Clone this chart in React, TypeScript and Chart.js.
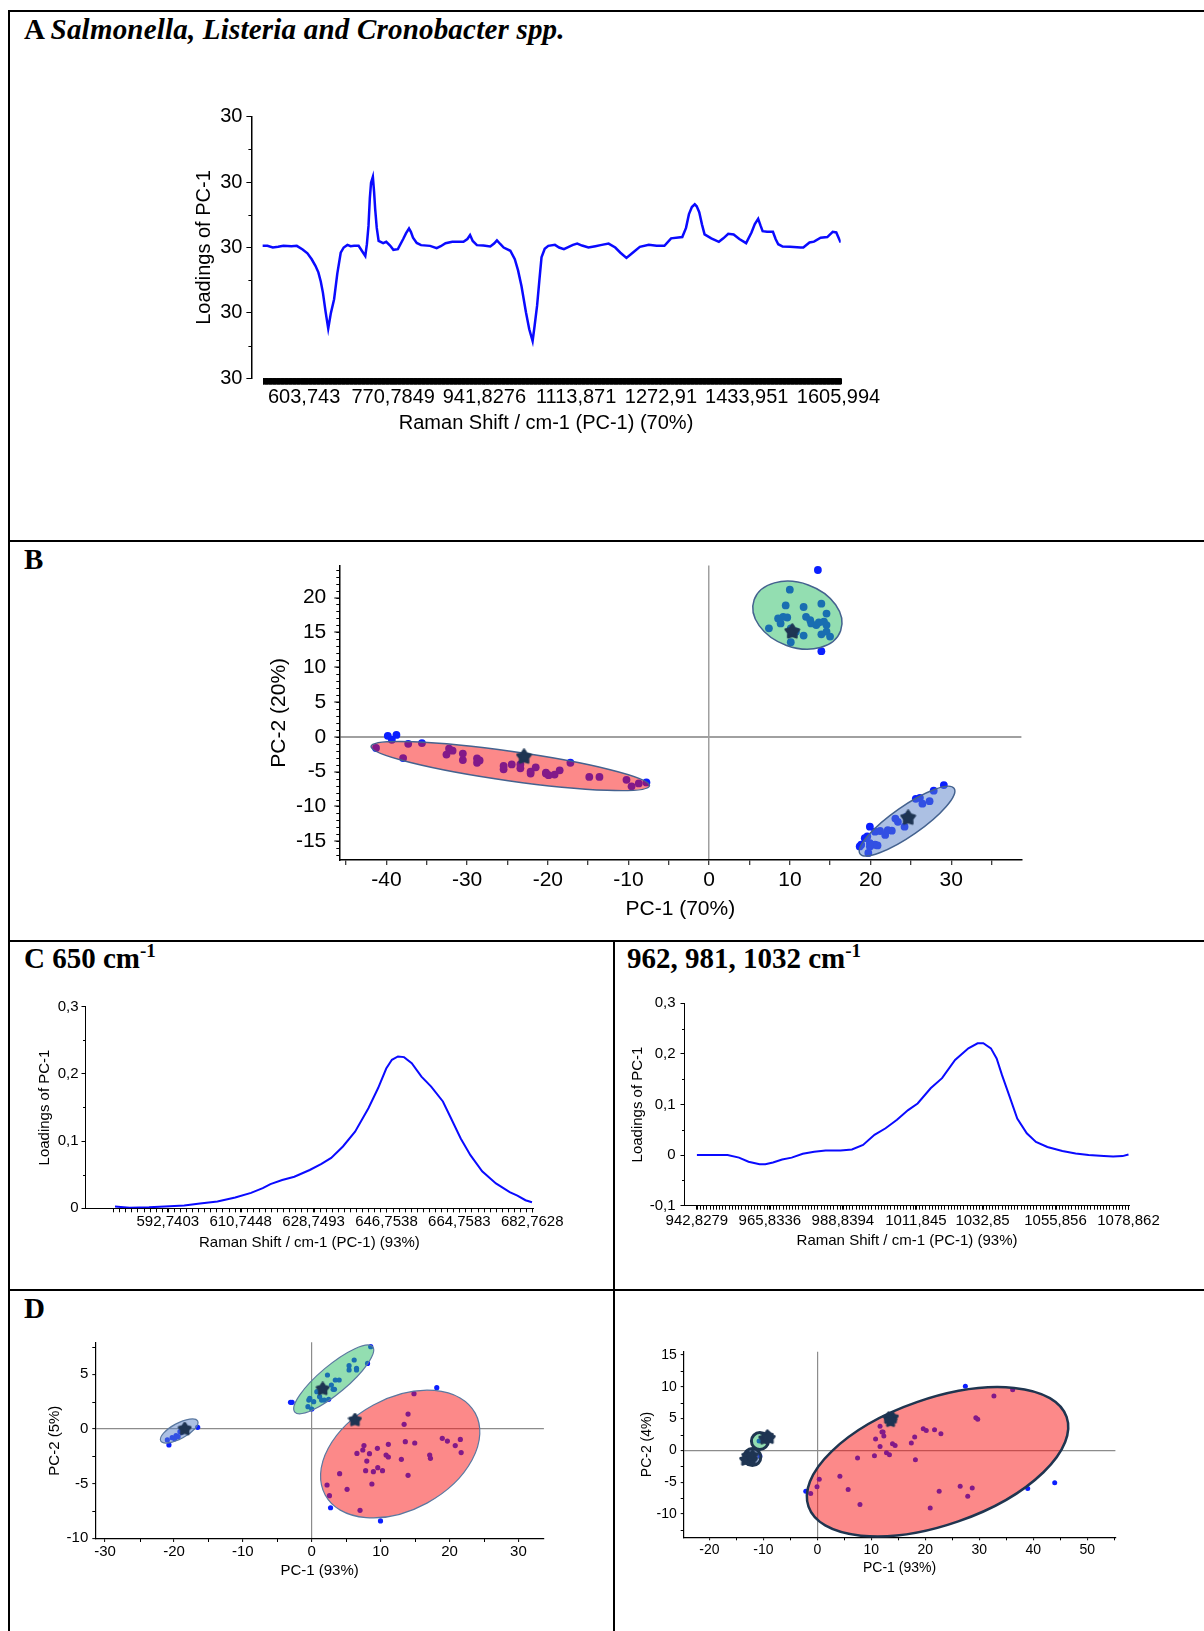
import React, { useEffect, useRef } from 'react';
import { Chart, registerables } from 'chart.js';

Chart.register(...registerables);

// ================= DATA =================
// Panel A – PC-1 loadings over the full Raman range
const ramanA = [526, 535, 545, 555, 565, 580, 590, 601, 610, 618, 625, 630.5, 635, 639, 644, 649, 654, 660, 666, 672.4, 678, 685, 691, 697.5, 706, 712, 718.5, 721.5, 724.5, 727, 729.3, 732.7, 735, 737, 740, 743.5, 752, 757.8, 765, 771.2, 779.6, 789.6, 795, 800.5, 804, 808, 815, 823, 840, 852.4, 860, 869, 881.7, 902.6, 910, 915, 920, 927.8, 940, 952.9, 960, 965.4, 972, 978, 990.5, 998.9, 1005, 1011.4, 1019.8, 1026, 1032.3, 1036, 1040.7, 1045, 1049, 1055, 1061.7, 1074.2, 1082, 1091, 1100, 1108, 1116, 1125, 1137, 1150, 1162, 1174.8, 1187.3, 1197, 1208.3, 1220, 1233.4, 1250.2, 1265, 1279.5, 1292, 1313, 1320, 1325.5, 1331, 1336.4, 1340, 1344.8, 1350, 1354.8, 1367.4, 1381.6, 1390, 1399.2, 1409.3, 1420, 1432.7, 1442.8, 1449, 1455.3, 1460, 1463.7, 1472, 1483, 1488, 1493, 1501.3, 1515, 1534.8, 1540, 1551.6, 1560, 1572.5, 1585, 1595.1, 1601.8, 1610];
const loadingsA = [0.025, 0.025, 0.0, 0.01, 0.025, 0.02, 0.025, -0.03, -0.09, -0.18, -0.28, -0.38, -0.52, -0.69, -0.98, -1.24, -1.0, -0.79, -0.4, -0.08, 0.0, 0.04, 0.02, 0.025, 0.025, -0.05, -0.13, 0.05, 0.33, 0.75, 0.99, 1.08, 0.85, 0.59, 0.3, 0.1, 0.066, 0.087, 0.03, -0.036, -0.025, 0.13, 0.22, 0.29, 0.24, 0.15, 0.07, 0.036, 0.025, -0.01, 0.02, 0.066, 0.087, 0.087, 0.13, 0.19, 0.1, 0.036, 0.03, 0.015, 0.06, 0.11, 0.05, 0.0, -0.05, -0.18, -0.35, -0.59, -0.99, -1.25, -1.43, -1.2, -0.89, -0.5, -0.15, -0.02, 0.025, 0.04, 0.0, -0.025, 0.01, 0.04, 0.06, 0.03, 0.0, 0.02, 0.04, 0.06, 0.0, -0.08, -0.16, -0.08, 0.01, 0.04, 0.025, 0.025, 0.14, 0.16, 0.3, 0.51, 0.62, 0.66, 0.63, 0.54, 0.35, 0.2, 0.14, 0.087, 0.14, 0.21, 0.2, 0.13, 0.066, 0.23, 0.36, 0.44, 0.33, 0.25, 0.24, 0.24, 0.13, 0.05, 0.015, 0.01, 0.0, 0.0, 0.076, 0.09, 0.15, 0.16, 0.24, 0.23, 0.076];
const ticksA_x = [603.743, 770.7849, 941.8276, 1113.871, 1272.91, 1433.951, 1605.994];
const tickLabelsA_x = ['603,743', '770,7849', '941,8276', '1113,871', '1272,91', '1433,951', '1605,994'];
const ticksA_y = [-2, -1, 0, 1, 2];
const tickLabelsA_y = ['30', '30', '30', '30', '30'];

// Panel B – score plot
const pcB_x = [-41.29, -39.33, -38.76, -39.83, -37.93, -37.3, -35.6, -32.56, -32.24, -31.8, -30.53, -30.53, -28.77, -28.45, -28.77, -25.48, -25.48, -24.47, -23.4, -23.4, -22.13, -22.13, -21.5, -20.23, -19.9, -20.23, -19.16, -18.53, -17.2, -14.86, -13.6, -10.25, -9.62, -8.73, -7.78,
  13.47, 9.99, 9.48, 11.7, 13.9, 14.54, 8.54, 9.17, 9.67, 8.85, 7.4, 12.0, 12.52, 13.27, 13.59, 14.22, 14.54, 12.64, 10.11, 10.74, 11.7, 13.9, 14.54, 14.98, 10.11, 13.9,
  29.08, 27.82, 27.31, 26.42, 26.11, 25.6, 24.46, 24.21, 23.39, 23.07, 22.63, 22.13, 21.81, 21.18, 20.55, 20.55, 19.91, 19.59, 19.28, 18.84, 19.91, 19.91, 19.72, 18.65, 20.86];
const pcB_y = [-1.6, -0.42, 0.28, 0.14, -3.05, -1.0, -0.89, -2.54, -1.7, -1.98, -2.4, -3.34, -3.1, -3.39, -3.72, -4.19, -4.67, -3.96, -3.96, -4.52, -4.99, -5.28, -4.38, -5.14, -5.51, -5.28, -5.42, -4.81, -3.72, -5.75, -5.75, -6.17, -7.11, -6.69, -6.54,
  23.95, 21.13, 18.87, 18.64, 19.11, 17.7, 16.99, 17.23, 17.13, 16.28, 15.57, 17.23, 16.75, 16.04, 16.43, 16.52, 16.04, 16.28, 15.57, 15.1, 14.53, 14.72, 15.1, 14.39, 13.59, 12.29,
  -6.92, -7.73, -9.23, -9.6, -8.76, -8.9, -11.49, -12.9, -12.2, -11.73, -13.47, -13.38, -14.08, -13.52, -15.49, -13.61, -12.9, -14.31, -14.55, -15.49, -15.25, -15.73, -16.67, -15.73, -15.59];
const centroidB_x = [-22.95, 10.3, 24.66];
const centroidB_y = [-2.87, 15.1, -11.63];
const ellCentersB = [[-24.65, -4.2], [10.93, 17.46], [24.52, -12.1]];
const ellEndsB = [[-7.4, -7.02], [16.29, 15.24], [30.35, -7.4]];
const ellRatiosB = [0.105, 0.7, 0.256];
const ticksB_x = [-45, -40, -35, -30, -25, -20, -15, -10, -5, 0, 5, 10, 15, 20, 25, 30, 35];
const tickLabelsB_x = ['', '-40', '', '-30', '', '-20', '', '-10', '', '0', '', '10', '', '20', '', '30', ''];
const ticksB_y = [-15, -10, -5, 0, 5, 10, 15, 20];
const tickLabelsB_y = ['-15', '-10', '-5', '0', '5', '10', '15', '20'];

// Panel C – 650 cm-1 region
const ramanC1 = [579.7, 583.3, 588.1, 592, 596.8, 600.7, 605, 609.4, 613.3, 616.2, 618.1, 621, 624, 627.8, 630.7, 633.1, 636, 639, 642.3, 644.7, 646.7, 648.1, 649.6, 651.1, 653, 655.4, 657.8, 660.7, 662.7, 665.1, 667.5, 670.4, 673.8, 677.2, 679.1, 681.1, 682.7];
const loadingsC1 = [0.0025, 0.001, 0.0015, 0.0025, 0.004, 0.007, 0.01, 0.016, 0.023, 0.03, 0.036, 0.042, 0.047, 0.057, 0.066, 0.075, 0.092, 0.114, 0.149, 0.179, 0.208, 0.221, 0.226, 0.225, 0.216, 0.196, 0.181, 0.159, 0.134, 0.104, 0.079, 0.055, 0.037, 0.024, 0.019, 0.012, 0.009];
const ticksC1_x = [592.7403, 610.7448, 628.7493, 646.7538, 664.7583, 682.7628];
const tickLabelsC1_x = ['592,7403', '610,7448', '628,7493', '646,7538', '664,7583', '682,7628'];
const ticksC1_y = [0, 0.1, 0.2, 0.3];
const tickLabelsC1_y = ['0', '0,1', '0,2', '0,3'];

// Panel C (right) – 962, 981, 1032 cm-1 region
const ramanC2 = [942.83, 952.5, 956.1, 959.1, 962.6, 964.4, 966.8, 969.7, 972.7, 976.2, 979.8, 983.4, 988.1, 991.7, 995.2, 998.8, 1002.3, 1005.9, 1009.4, 1012.4, 1016.5, 1020.1, 1024.2, 1028.4, 1031.3, 1033.1, 1035.5, 1037.3, 1039.0, 1041.2, 1043.8, 1046.8, 1049.7, 1053.3, 1058, 1062.2, 1066.3, 1071.1, 1074, 1077, 1078.86];
const loadingsC2 = [0, 0, -0.005, -0.013, -0.018, -0.018, -0.0145, -0.0086, -0.005, 0.0026, 0.0066, 0.009, 0.009, 0.011, 0.02, 0.04, 0.053, 0.07, 0.089, 0.102, 0.132, 0.152, 0.188, 0.211, 0.221, 0.221, 0.211, 0.191, 0.158, 0.119, 0.072, 0.043, 0.026, 0.016, 0.008, 0.003, 0, -0.002, -0.003, -0.002, 0.0013];
const ticksC2_x = [942.8279, 965.8336, 988.8394, 1011.845, 1032.85, 1055.856, 1078.862];
const tickLabelsC2_x = ['942,8279', '965,8336', '988,8394', '1011,845', '1032,85', '1055,856', '1078,862'];
const ticksC2_y = [-0.1, 0, 0.1, 0.2, 0.3];
const tickLabelsC2_y = ['-0,1', '0', '0,1', '0,2', '0,3'];

// Panel D (left) – score plot, 650 cm-1
const pcD1_x = [-20.73, -20.96, -20.27, -19.7, -19.13, -18.56, -16.56, -19.9, -19.4, -18.9,
  8.56, 6.16, 8.1, 5.42, 5.42, 6.5, 6.5, 2.28, 3.42, 3.98, 3.1, 3.3, 0.74, -0.29, 0.28, -0.43, -0.55, 0.0, 1.43, 1.83, 2.45, -2.85, -3.08, 1.14, 2.85,
  14.84, 18.15, 13.98, 13.41, 13.58, 14.95, 18.95, 19.69, 21.57, 20.83, 21.69, 7.58, 7.41, 6.56, 8.38, 9.53, 10.79, 11.12, 11.12, 7.99, 13.01, 17.12, 17.23, 7.82, 8.95, 9.58, 10.27, 4.05, 13.98, 8.73, 5.13, 2.22, 2.57, 2.73, 7.01, 9.98];
const pcD1_y = [-1.46, -1.0, -0.79, -0.61, -0.24, 0.12, 0.15, -0.9, -0.7, -0.3,
  7.53, 6.31, 6.0, 5.79, 5.4, 5.55, 5.4, 4.94, 4.48, 4.48, 3.63, 3.63, 3.41, 2.8, 2.5, 2.65, 2.04, 1.83, 2.65, 2.65, 2.71, 2.44, 2.44, 2.96, 4.02,
  3.23, 3.78, 1.37, 0.43, -1.16, -1.28, -0.85, -1.1, -0.95, -1.52, -2.16, -1.52, -1.92, -2.23, -2.26, -1.77, -2.38, -2.56, -1.4, -2.93, -2.77, -2.38, -2.68, -3.81, -3.9, -3.54, -3.81, -4.09, -4.24, -5.03, -5.52, -5.12, -6.1, -7.2, -7.44, -8.41];
const centroidD1_x = [-18.44, 1.59, 6.27];
const centroidD1_y = [0.0, 3.66, 0.82];
const ellCentersD1 = [[-19.24, -0.18], [3.19, 4.54], [12.84, -2.29]];
const ellEndsD1 = [[-16.56, 0.73], [8.84, 7.53], [23.73, 1.45]];
const ellRatiosD1 = [0.37, 0.275, 0.654];
const ticksD1_x = [-30, -20, -10, 0, 10, 20, 30];
const tickLabelsD1_x = ['-30', '-20', '-10', '0', '10', '20', '30'];
const ticksD1_y = [-10, -5, 0, 5];
const tickLabelsD1_y = ['-10', '-5', '0', '5'];

// Panel D (right) – score plot, 962/981/1032 cm-1
const pcD2_x = [27.41, 32.7, 36.17, 29.35, 29.7, 11.61, 11.96, 12.17, 12.31, 10.78, 11.61, 19.61, 20.17, 21.7, 22.88, 18.02, 17.4, 13.91, 14.4, 12.8, 13.35, 7.44, 10.57, 18.16, 4.17, 0.35, -0.07, 5.7, -2.15, -1.24, 7.89, 20.9, 22.56, 26.45, 28.68, 27.85, 38.96, 43.96, -10.65, -10.8];
const pcD2_y = [10.09, 8.57, 9.52, 5.15, 4.89, 3.79, 2.89, 2.89, 2.26, 1.79, 0.63, 3.42, 3.15, 3.26, 2.63, 2.1, 1.16, 1.05, 0.79, -0.37, -0.68, -1.21, -0.84, -1.47, -4.05, -4.52, -5.73, -6.15, -6.41, -6.78, -8.52, -9.04, -6.41, -5.63, -5.89, -7.2, -5.99, -5.1, -0.89, 1.47];
const centroidD2_x = [13.2, 13.9, 13.55, -9.26, -9.75, -8.91, -12.9, -12.2, -13.3, -12.0];
const centroidD2_y = [5.1, 5.15, 4.6, 2.26, 1.84, 1.94, -0.9, -1.5, -1.5, -0.8];
const ellCentersD2 = [[22.26, -1.79], [-12.04, -1.05], [-10.65, 1.47]];
const ellEndsD2 = [[46.16, 5.26], [-10.47, -1.05], [-9.08, 1.47]];
const ellRatiosD2 = [0.462, 1, 1];
const ticksD2_x = [-20, -10, 0, 10, 20, 30, 40, 50];
const tickLabelsD2_x = ['-20', '-10', '0', '10', '20', '30', '40', '50'];
const ticksD2_y = [-10, -5, 0, 5, 10, 15];
const tickLabelsD2_y = ['-10', '-5', '0', '5', '10', '15'];

// ================= STYLE =================
const SANS = "'Liberation Sans', Arial, Helvetica, sans-serif";
const SERIF = "'Liberation Serif', 'Times New Roman', serif";
const LINE_BLUE = '#0a0aff';
const DOT_BLUE = '#0b1fff';
const STAR_NAVY = '#1f3553';
const FILL_RED = 'rgba(250,20,20,0.5)';
const FILL_GREEN = 'rgba(40,190,100,0.5)';
const FILL_BLUE = 'rgba(90,130,200,0.5)';

// ================= PLUGINS =================
const minorTicksPlugin = {
  id: 'minorTicks',
  afterDraw(chart: any, _a: any, opts: any) {
    const items = opts && opts.items;
    if (!items) return;
    const ctx = chart.ctx;
    for (let k = 0; k < items.length; k++) {
      const it = items[k];
      const s = chart.scales[it.axis];
      ctx.save();
      ctx.strokeStyle = it.color || '#000';
      ctx.lineWidth = 1;
      ctx.beginPath();
      const n = Math.round((it.to - it.from) / it.step);
      for (let i = 0; i <= n; i++) {
        const v = it.from + i * it.step;
        const p = Math.round(s.getPixelForValue(v)) + 0.5;
        if (s.isHorizontal()) {
          ctx.moveTo(p, s.top);
          ctx.lineTo(p, s.top + it.len);
        } else {
          ctx.moveTo(s.right, p);
          ctx.lineTo(s.right - it.len, p);
        }
      }
      ctx.stroke();
      ctx.restore();
    }
  },
};

const ellipsePlugin = {
  id: 'ellipses',
  afterDatasetDraw(chart: any, args: any, opts: any) {
    const items = opts && opts.items;
    if (!items || args.index !== opts.afterIndex) return;
    const xs = chart.scales.x;
    const ys = chart.scales.y;
    const ctx = chart.ctx;
    for (let k = 0; k < items.length; k++) {
      const e = items[k];
      const cx = xs.getPixelForValue(e.c[0]);
      const cy = ys.getPixelForValue(e.c[1]);
      const ex = xs.getPixelForValue(e.e[0]);
      const ey = ys.getPixelForValue(e.e[1]);
      const a = Math.hypot(ex - cx, ey - cy);
      const ang = Math.atan2(ey - cy, ex - cx);
      ctx.save();
      ctx.beginPath();
      ctx.ellipse(cx, cy, a, a * e.ratio, ang, 0, Math.PI * 2);
      ctx.fillStyle = e.fill;
      ctx.fill();
      ctx.strokeStyle = e.stroke;
      ctx.lineWidth = e.lw;
      ctx.stroke();
      ctx.restore();
    }
  },
};

Chart.register(minorTicksPlugin as any, ellipsePlugin as any);

// ================= HELPERS =================
type Geo = { l: number; t: number; w: number; h: number; area: number[]; yTitleX: number; xTitleY: number; titleSize: number };

function frame(g: Geo) {
  const lh = g.titleSize * 1.2;
  const [al, at, ar, ab] = g.area;
  const left = g.yTitleX - g.l - lh / 2;
  const yWidth = al - g.l - left;
  const top = at - g.t;
  const right = g.l + g.w - ar;
  const xBottom = g.xTitleY - g.t + lh / 2;
  const bottom = g.h - xBottom;
  const xHeight = xBottom - (ab - g.t);
  return { padding: { left, top, right, bottom }, yWidth, xHeight };
}

function axis(o: any) {
  return {
    type: 'linear',
    position: o.horizontal ? 'bottom' : 'left',
    min: o.min,
    max: o.max,
    afterFit: (s: any) => {
      if (o.horizontal) s.height = o.fit;
      else s.width = o.fit;
    },
    afterBuildTicks: (s: any) => {
      s.ticks = o.ticks.map((v: number) => ({ value: v }));
    },
    ticks: {
      autoSkip: false,
      maxRotation: 0,
      minRotation: 0,
      padding: o.pad,
      color: o.labelColor || '#000',
      font: { family: SANS, size: o.size },
      callback: (_v: any, i: number) => o.labels[i],
    },
    grid: {
      display: true,
      drawOnChartArea: !!o.zero,
      drawTicks: true,
      tickLength: o.tickLen,
      tickColor: '#000',
      tickWidth: 1,
      color: (c: any) => (o.zero && c.tick && Math.abs(c.tick.value) < 1e-9 ? o.zero.color : 'rgba(0,0,0,0)'),
      lineWidth: o.zero ? o.zero.width : 1,
    },
    border: { display: o.showBorder !== false, color: '#000', width: o.border || 1 },
    title: { display: true, text: o.title, color: '#000', font: { family: SANS, size: o.titleSize }, padding: 0 },
  };
}

function makeStar(size: number, color: string): HTMLCanvasElement {
  const c = document.createElement('canvas');
  c.width = size;
  c.height = size;
  const g = c.getContext('2d') as CanvasRenderingContext2D;
  const cx = size / 2;
  const cy = size / 2;
  const R = size / 2 - 1.5;
  const r = R * 0.6;
  g.beginPath();
  for (let i = 0; i < 10; i++) {
    const ang = -Math.PI / 2 + (i * Math.PI) / 5;
    const rad = i % 2 === 0 ? R : r;
    const x = cx + rad * Math.cos(ang);
    const y = cy + rad * Math.sin(ang);
    if (i === 0) g.moveTo(x, y);
    else g.lineTo(x, y);
  }
  g.closePath();
  g.fillStyle = color;
  g.strokeStyle = color;
  g.lineWidth = 2.5;
  g.lineJoin = 'round';
  g.fill();
  g.stroke();
  return c;
}

const pairs = (xs: number[], ys: number[]) => xs.map((x, i) => ({ x, y: ys[i] }));

function baseOptions(f: any, plugins: any, scales: any) {
  return {
    responsive: false,
    animation: false,
    devicePixelRatio: 1,
    layout: { padding: f.padding, autoPadding: false },
    plugins: { legend: { display: false }, tooltip: { enabled: false }, ...plugins },
    scales,
  };
}

// ================= GEOMETRY =================
const gA: Geo = { l: 150, t: 80, w: 760, h: 380, area: [251.4, 116.7, 840.7, 378.3], yTitleX: 204.6, xTitleY: 423.5, titleSize: 20 };
const gB: Geo = { l: 230, t: 545, w: 830, h: 390, area: [339.3, 561.7, 1021.4, 860], yTitleX: 279, xTitleY: 909, titleSize: 21 };
const gC1: Geo = { l: 15, t: 990, w: 590, h: 290, area: [85.5, 1006.7, 533.3, 1208.3], yTitleX: 45.1, xTitleY: 1242.5, titleSize: 15 };
const gC2: Geo = { l: 620, t: 985, w: 580, h: 290, area: [684.5, 1003.3, 1129.6, 1205.7], yTitleX: 637.5, xTitleY: 1240.5, titleSize: 15 };
const gD1: Geo = { l: 15, t: 1325, w: 590, h: 280, area: [95.3, 1342.3, 543.9, 1539], yTitleX: 54.9, xTitleY: 1571, titleSize: 15 };
const gD2: Geo = { l: 620, t: 1330, w: 580, h: 280, area: [683.7, 1351.7, 1115.4, 1537.3], yTitleX: 646.9, xTitleY: 1567.7, titleSize: 14 };

// ================= CONFIGS =================
function lineConfig(g: Geo, xs: number[], ys: number[], lw: number, minor: any[], xo: any, yo: any) {
  const f = frame(g);
  return {
    type: 'line',
    data: { datasets: [{ data: pairs(xs, ys), borderColor: LINE_BLUE, borderWidth: lw, pointRadius: 0, tension: 0, fill: false }] },
    options: baseOptions(f, { minorTicks: { items: minor } }, {
      x: axis({ ...xo, horizontal: true, fit: f.xHeight, titleSize: g.titleSize }),
      y: axis({ ...yo, horizontal: false, fit: f.yWidth, titleSize: g.titleSize }),
    }),
  };
}

function scatterConfig(g: Geo, px: number[], py: number[], sx: number[], sy: number[], starSize: number, dotR: number,
  ellipses: any[], minor: any[], xo: any, yo: any) {
  const f = frame(g);
  const star = makeStar(starSize, STAR_NAVY);
  return {
    type: 'scatter',
    data: {
      datasets: [
        { data: pairs(sx, sy), pointStyle: star, pointRadius: starSize / 2, order: 0 },
        { data: pairs(px, py), pointStyle: 'circle', pointRadius: dotR, backgroundColor: DOT_BLUE, borderWidth: 0, order: 1 },
      ],
    },
    options: baseOptions(f, { minorTicks: { items: minor }, ellipses: { afterIndex: 1, items: ellipses } }, {
      x: axis({ ...xo, horizontal: true, fit: f.xHeight, titleSize: g.titleSize }),
      y: axis({ ...yo, horizontal: false, fit: f.yWidth, titleSize: g.titleSize }),
    }),
  };
}

function ells(centers: number[][], ends: number[][], ratios: number[], fills: string[], strokes: string[], widths: number[]) {
  return centers.map((c, i) => ({ c, e: ends[i], ratio: ratios[i], fill: fills[i], stroke: strokes[i], lw: widths[i] }));
}

const buildA = () => lineConfig(gA, ramanA, loadingsA, 2.5,
  [{ axis: 'y', from: -1.5, to: 1.5, step: 1, len: 3 }, { axis: 'x', from: 526, to: 1610, step: 0.5, len: 6 }],
  { min: 504.9, max: 1610.1, ticks: ticksA_x, labels: tickLabelsA_x, size: 20, tickLen: 6, pad: 1, title: 'Raman Shift / cm-1 (PC-1) (70%)', showBorder: false },
  { min: -2, max: 2, ticks: ticksA_y, labels: tickLabelsA_y, size: 20, tickLen: 5, pad: 4, title: 'Loadings of PC-1', border: 1.5 });

const buildC1 = () => lineConfig(gC1, ramanC1, loadingsC1, 2,
  [{ axis: 'y', from: 0.05, to: 0.25, step: 0.1, len: 2.5 }, { axis: 'x', from: 579.2370, to: 682.7628, step: 1.50037, len: 4 }],
  { min: 572.41, max: 683.03, ticks: ticksC1_x, labels: tickLabelsC1_x, size: 15, tickLen: 4, pad: 1, title: 'Raman Shift / cm-1 (PC-1) (93%)' },
  { min: 0, max: 0.3, ticks: ticksC1_y, labels: tickLabelsC1_y, size: 15, tickLen: 4, pad: 3, title: 'Loadings of PC-1' });

const buildC2 = () => lineConfig(gC2, ramanC2, loadingsC2, 2,
  [{ axis: 'y', from: -0.05, to: 0.25, step: 0.1, len: 2.5 }, { axis: 'x', from: 942.8279, to: 1078.862, step: 1.00025, len: 4 }],
  { min: 938.92, max: 1079.21, ticks: ticksC2_x, labels: tickLabelsC2_x, size: 15, tickLen: 4, pad: 2, title: 'Raman Shift / cm-1 (PC-1) (93%)' },
  { min: -0.1, max: 0.3, ticks: ticksC2_y, labels: tickLabelsC2_y, size: 15, tickLen: 4, pad: 5, title: 'Loadings of PC-1' });

const buildB = () => scatterConfig(gB, pcB_x, pcB_y, centroidB_x, centroidB_y, 17, 3.9,
  ells(ellCentersB, ellEndsB, ellRatiosB, [FILL_RED, FILL_GREEN, FILL_BLUE], ['#44628f', '#44628f', '#44628f'], [1.5, 1.5, 1.5]),
  [{ axis: 'y', from: -17, to: 24, step: 1, len: 3 }],
  { min: -45.84, max: 38.69, ticks: ticksB_x, labels: tickLabelsB_x, size: 21, tickLen: 5, pad: 3, title: 'PC-1 (70%)', border: 1.5, zero: { color: '#a0a0a0', width: 1.5 } },
  { min: -17.68, max: 24.58, ticks: ticksB_y, labels: tickLabelsB_y, size: 21, tickLen: 5, pad: 8, title: 'PC-2 (20%)', border: 1.5, zero: { color: '#a0a0a0', width: 2 } });

const buildD1 = () => scatterConfig(gD1, pcD1_x, pcD1_y, centroidD1_x, centroidD1_y, 15, 2.6,
  ells(ellCentersD1, ellEndsD1, ellRatiosD1, [FILL_BLUE, FILL_GREEN, FILL_RED], ['#5a78a0', '#5a78a0', '#5a78a0'], [1.2, 1.2, 1.2]),
  [{ axis: 'y', from: -7.5, to: 7.5, step: 5, len: 3 }, { axis: 'x', from: -25, to: 25, step: 10, len: 3 }],
  { min: -31.42, max: 33.7, ticks: ticksD1_x, labels: tickLabelsD1_x, size: 15, tickLen: 3, pad: 1, title: 'PC-1 (93%)', border: 1.2, zero: { color: '#8c8c8c', width: 1.2 } },
  { min: -10.06, max: 7.93, ticks: ticksD1_y, labels: tickLabelsD1_y, size: 15, tickLen: 3, pad: 4, title: 'PC-2 (5%)', border: 1.2, zero: { color: '#8c8c8c', width: 1.2 } });

const buildD2 = () => scatterConfig(gD2, pcD2_x, pcD2_y, centroidD2_x, centroidD2_y, 14, 2.5,
  ells(ellCentersD2, ellEndsD2, ellRatiosD2, [FILL_RED, FILL_BLUE, FILL_GREEN], ['#1f3550', '#1f3550', '#1f3550'], [2.5, 3, 3]),
  [{ axis: 'y', from: -12.5, to: 12.5, step: 5, len: 3 }, { axis: 'x', from: -15, to: 55, step: 10, len: 3 }],
  { min: -24.76, max: 55.2, ticks: ticksD2_x, labels: tickLabelsD2_x, size: 14, tickLen: 3, pad: 1, title: 'PC-1 (93%)', border: 1.2, zero: { color: '#8c8c8c', width: 1.2 } },
  { min: -13.66, max: 15.52, ticks: ticksD2_y, labels: tickLabelsD2_y, size: 14, tickLen: 3, pad: 4, title: 'PC-2 (4%)', border: 1.2, zero: { color: '#8c8c8c', width: 1.2 } });

// ================= COMPONENTS =================
function ChartBox({ g, build }: { g: Geo; build: () => any }) {
  const ref = useRef<HTMLCanvasElement | null>(null);
  useEffect(() => {
    const chart = new Chart(ref.current as HTMLCanvasElement, build());
    return () => chart.destroy();
  }, []);
  return <canvas ref={ref} width={g.w} height={g.h} style={{ position: 'absolute', left: g.l, top: g.t, width: g.w, height: g.h }} />;
}

const TITLE_SIZE = 29;
function PanelTitle({ left, baseline, children }: { left: number; baseline: number; children: any }) {
  return (
    <div style={{ position: 'absolute', left, top: baseline - 0.8375 * TITLE_SIZE, fontFamily: SERIF, fontWeight: 'bold', fontSize: TITLE_SIZE, lineHeight: `${TITLE_SIZE}px`, whiteSpace: 'nowrap', color: '#000' }}>
      {children}
    </div>
  );
}

const Sup = ({ children }: { children: any }) => (
  <sup style={{ fontSize: 19, verticalAlign: 'super', lineHeight: 0 }}>{children}</sup>
);

function Rule({ l, t, w, h }: { l: number; t: number; w: number; h: number }) {
  return <div style={{ position: 'absolute', left: l, top: t, width: w, height: h, background: '#000' }} />;
}

export default function App() {
  return (
    <div style={{ position: 'absolute', left: 0, top: 0, width: 1204, height: 1631, background: '#fff', overflow: 'hidden' }}>
      <ChartBox g={gA} build={buildA} />
      <ChartBox g={gB} build={buildB} />
      <ChartBox g={gC1} build={buildC1} />
      <ChartBox g={gC2} build={buildC2} />
      <ChartBox g={gD1} build={buildD1} />
      <ChartBox g={gD2} build={buildD2} />

      <Rule l={8} t={10} w={1196} h={2} />
      <Rule l={8} t={10} w={2} h={1621} />
      <Rule l={8} t={540} w={1196} h={2} />
      <Rule l={8} t={940} w={1196} h={2} />
      <Rule l={8} t={1289} w={1196} h={2} />
      <Rule l={613} t={940} w={2} h={691} />

      <PanelTitle left={24} baseline={39}>A <i style={{ letterSpacing: '0.2px' }}>Salmonella, Listeria and Cronobacter spp.</i></PanelTitle>
      <PanelTitle left={24} baseline={569}>B</PanelTitle>
      <PanelTitle left={24} baseline={968}>C 650 cm<Sup>-1</Sup></PanelTitle>
      <PanelTitle left={627} baseline={968}>962, 981, 1032 cm<Sup>-1</Sup></PanelTitle>
      <PanelTitle left={24} baseline={1318}>D</PanelTitle>
    </div>
  );
}
